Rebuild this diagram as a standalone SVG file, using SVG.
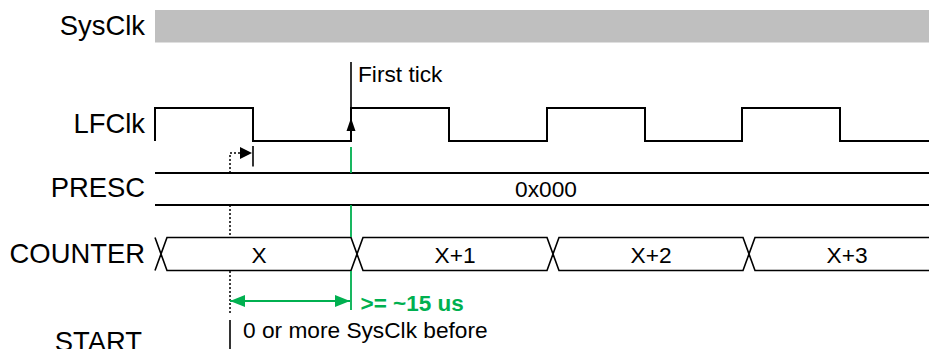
<svg xmlns="http://www.w3.org/2000/svg" width="931" height="349" viewBox="0 0 931 349">
<style>
.lbl{font-family:"Liberation Sans",Arial,sans-serif;font-size:27.4px;fill:#000;text-anchor:end}
.sm{font-family:"Liberation Sans",Arial,sans-serif;font-size:22.7px;fill:#000}
.mid{text-anchor:middle}
.wave{fill:none;stroke:#000;stroke-width:2}
.bus{fill:none;stroke:#000;stroke-width:1.6}
.grn{stroke:#00B050;stroke-width:1.8;fill:none}
.dot{stroke:#000;stroke-width:1.5;stroke-dasharray:2 2;fill:none}
.g{font-family:"Liberation Sans",Arial,sans-serif;font-size:22.5px;font-weight:bold;fill:#00B050}
</style>
<defs>
<marker id="ga" viewBox="0 0 15 12" refX="15" refY="6" markerWidth="15" markerHeight="12" markerUnits="userSpaceOnUse" orient="auto-start-reverse">
<path d="M0,0 L15,6 L0,12 Z" fill="#00B050"/>
</marker>
</defs>
<rect width="931" height="349" fill="#fff"/>

<g id="sysclk">
<text class="lbl" x="145" y="35">SysClk</text>
<rect x="155" y="10" width="774" height="32.5" fill="#BFBFBF"/>
</g>

<g id="lfclk">
<text class="lbl" x="145" y="133">LFClk</text>
<path class="wave" d="M155,141 V108 H253 V141 H351 V108 H449 V141 H547 V108 H645 V141 H742 V108 H840 V141 H929"/>
</g>

<g id="presc">
<text class="lbl" x="145" y="197">PRESC</text>
<path class="wave" d="M155,173 H929 M155,205 H929"/>
<text class="sm mid" x="546" y="196.5">0x000</text>
</g>

<g id="counter">
<text class="lbl" x="145" y="263">COUNTER</text>
<path class="bus" d="M155,237.5 L167,270.5 H351 L363,237.5 H547 L559,270.5 H743 L755,237.5 H929 M155,270.5 L167,237.5 H351 L363,270.5 H547 L559,237.5 H743 L755,270.5 H929"/>
<text class="sm mid" x="259" y="262.7">X</text>
<text class="sm mid" x="455" y="262.7">X+1</text>
<text class="sm mid" x="651" y="262.7">X+2</text>
<text class="sm mid" x="847" y="262.7">X+3</text>
</g>

<g id="start">
<text class="lbl" x="142" y="351">START</text>
<path d="M230,320 V349" stroke="#000" stroke-width="1.6"/>
<text class="sm" x="243" y="338.3">0 or more SysClk before</text>
</g>

<g id="first-tick">
<path d="M351,62 V108" stroke="#000" stroke-width="1.6"/>
<path d="M351,118 L346.5,131 L355.5,131 Z" fill="#000"/>
<text class="sm" x="358" y="82">First tick</text>
</g>

<g id="connectors">
<path class="grn" d="M351,147 V173 M351,205 V237 M351,271 V310"/>
<path class="dot" d="M230,173 V153 H240 M230,205 V237 M230,271 V313"/>
<path d="M240,147 L252,153 L240,159 Z" fill="#000"/>
<path d="M253,146 V166.5" stroke="#000" stroke-width="1.6"/>
<path class="grn" d="M230,301 H350" marker-start="url(#ga)" marker-end="url(#ga)"/>
<text class="g" x="360.5" y="310.5">&gt;= ~15 us</text>
</g>
</svg>
